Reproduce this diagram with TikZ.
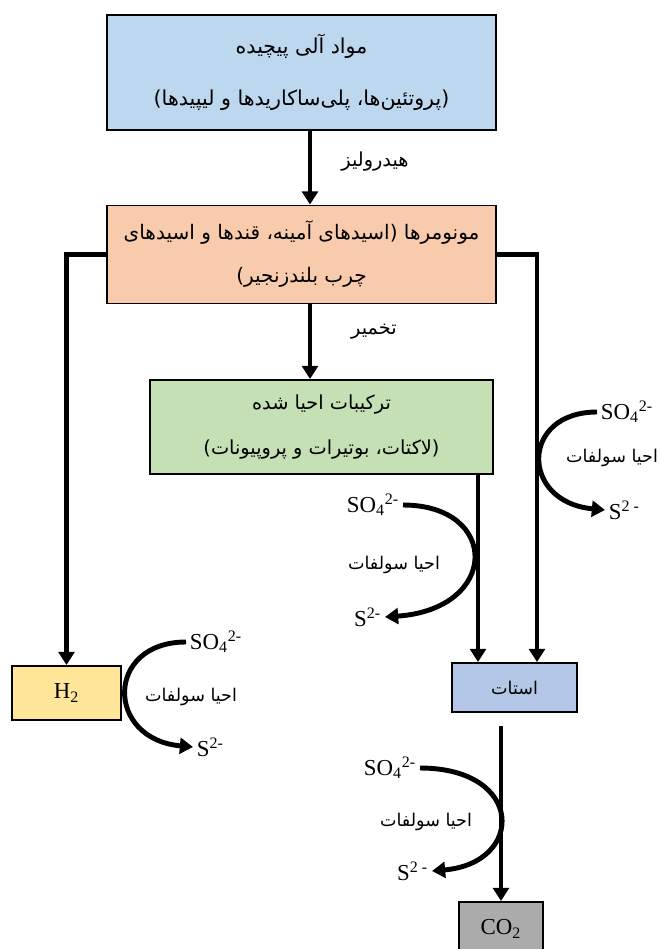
\documentclass[tikz,border=0pt]{standalone}
\usepackage{fontspec}
\setmainfont{Liberation Serif}
\newfontfamily\farsi[Script=Arabic]{DejaVu Sans}
\usetikzlibrary{arrows.meta}
\usetikzlibrary{positioning}
\TeXXeTstate=1
\newcommand\fa[1]{{\farsi\beginR #1\endR}}
\definecolor{boxblue}{RGB}{189,215,238}
\definecolor{boxorange}{RGB}{248,203,173}
\definecolor{boxgreen}{RGB}{197,224,180}
\definecolor{boxlilac}{RGB}{180,199,231}
\definecolor{boxyellow}{RGB}{255,230,153}
\definecolor{boxgray}{RGB}{171,171,171}
\tikzset{
	box/.style={draw,line width=1.1pt,inner sep=0pt,align=center},
	flow/.style={line width=2.8pt,-{Triangle[width=9pt,length=7.5pt]}},
	rxn/.style={line width=2.8pt,-{Triangle[width=9pt,length=7.5pt]}},
	ion/.style={inner sep=2pt,font=\fontsize{13}{15}\selectfont},
	lbl/.style={inner sep=1pt,font=\fontsize{10}{12}\selectfont}
}

\begin{document}
\begin{tikzpicture}[x=0.02cm,y=-0.02cm]
	\path[use as bounding box,fill=white] (0,0) rectangle (661,949);
	
	\node[box,fill=boxblue,minimum width=7.78cm,minimum height=2.3cm,font=\fontsize{11.7}{30}\selectfont] (org) at (301.5,72.5) {\fa{مواد آلی پیچیده}\\\fa{(پروتئین‌ها، پلی‌ساکاریدها و لیپیدها)}};
	\node[box,fill=boxorange,minimum width=7.78cm,minimum height=1.96cm,font=\fontsize{11.4}{24.5}\selectfont] (mono) at (301.5,254.5) {\fa{مونومرها (اسیدهای آمینه، قندها و اسیدهای}\\\fa{چرب بلندزنجیر)}};
	\node[box,fill=boxgreen,minimum width=6.86cm,minimum height=1.88cm,font=\fontsize{11}{25.6}\selectfont] (red) at (321.5,427) {\fa{ترکیبات احیا شده}\\\fa{(لاکتات، بوتیرات و پروپیونات)}};
	\node[box,fill=boxyellow,minimum width=2.18cm,minimum height=1.08cm,font=\fontsize{13}{15}\selectfont] (h2) at (66.5,693) {H\textsubscript{2}};
	\node[box,fill=boxlilac,minimum width=2.5cm,minimum height=.98cm,font=\fontsize{10}{12}\selectfont] (ac) at (514.5,687.5) {\fa{استات}};
	\node[box,fill=boxgray,minimum width=1.68cm,minimum height=1.08cm,font=\fontsize{13}{15}\selectfont] (co2) at (501,929) {CO\textsubscript{2}};
	
	\node[lbl,font=\fontsize{11}{13}\selectfont] (hyd) at (375,162) {\fa{هیدرولیز}};
	\node[lbl,font=\fontsize{11}{13}\selectfont] (fer) at (374,332) {\fa{تخمیر}};
	
	\draw[flow] ([xshift=.17cm]org.south) -- ([xshift=.17cm]mono.north);
	\draw[flow] ([xshift=.17cm]mono.south) -- ([xshift=.17cm]mono.south |- red.north);
	\draw[flow] (mono.west) -| (h2.north);
	\draw[flow] (mono.east) -| ([xshift=.45cm]ac.north);
	\draw[flow] ([xshift=-.73cm]ac.north |- red.south) -- ([xshift=-.73cm]ac.north);
	\draw[flow] ([yshift=-.26cm]ac.south -| co2.north) -- (co2.north);
	
	% sulfate reduction
	\foreach \nm/\ax/\ay/\bx/\by/\cx/\tx/\ty/\an/\chg in {
		r/597/412/605/510/520/612/458/west/{2 -},
		l/186/642/193/747/105/191/697/west/{2-},
		m/403/505/385/617/500/394/565/east/{2-},
		b/420/768/432/871/525/426/822/east/{2 -}}
	{
		\node[ion,anchor=\an] (so\nm) at (\ax,\ay) {SO\textsubscript{4}\textsuperscript{2-}};
		\node[ion,anchor=\an] (s\nm) at (\bx,\by) {S\textsuperscript{\chg}};
		\node[lbl] (t\nm) at (\tx,\ty) {\fa{احیا سولفات}};
		\draw[rxn] (so\nm.\an) .. controls (\cx,\ay) and (\cx,\by-8) .. (s\nm.\an);
	}
\end{tikzpicture}
\end{document}
